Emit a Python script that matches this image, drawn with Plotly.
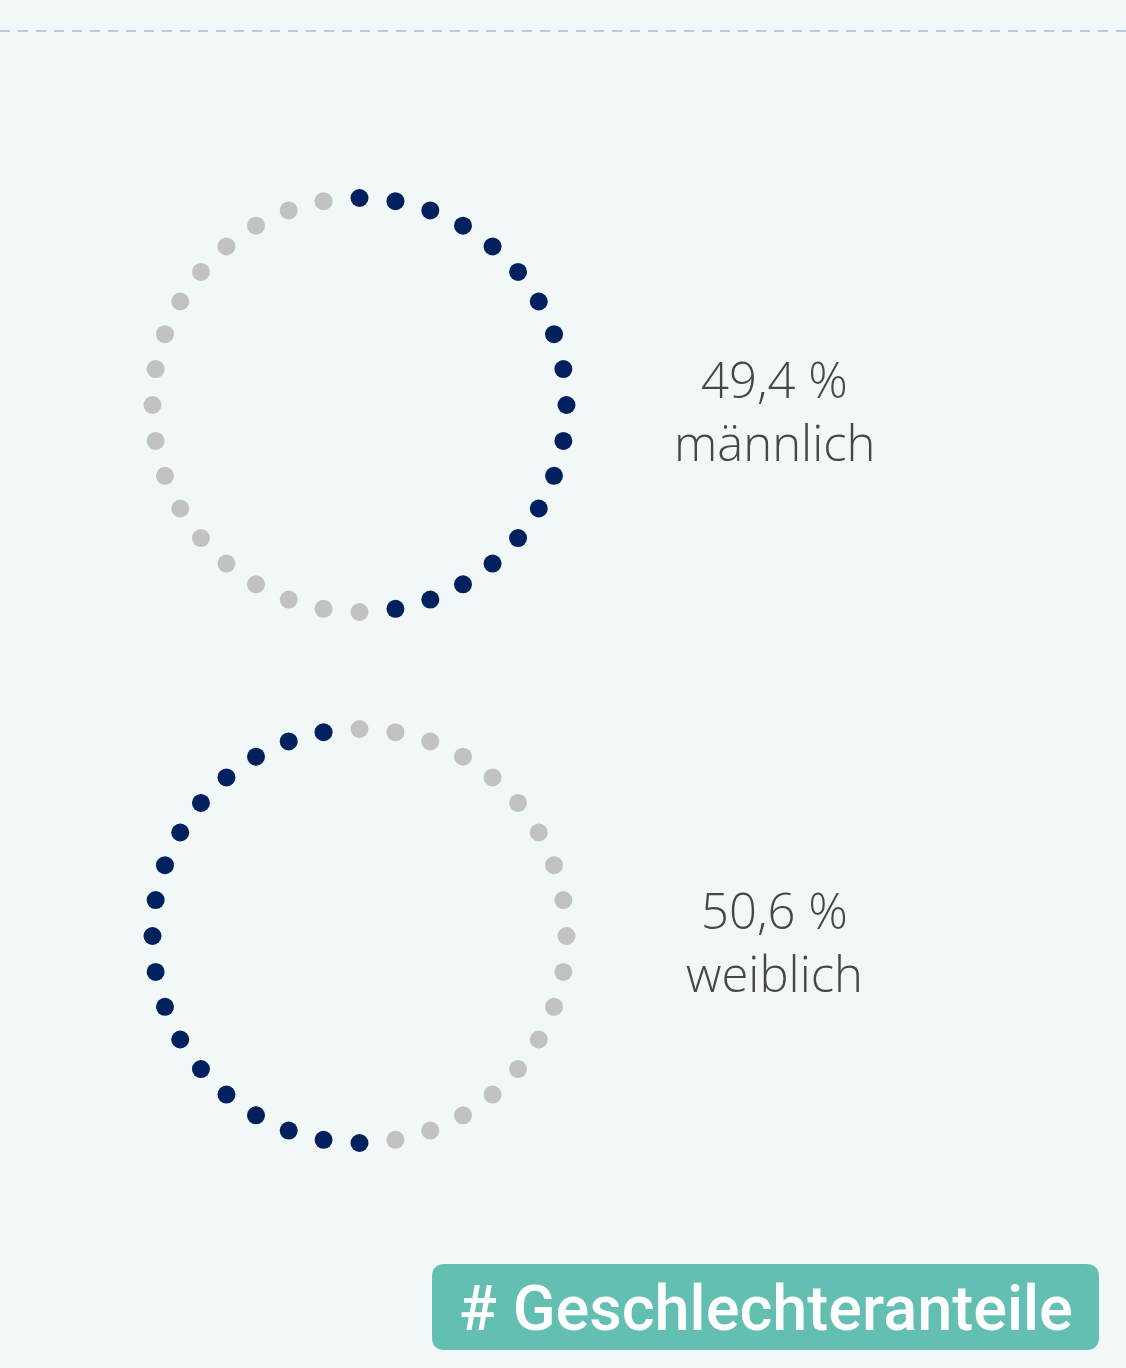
import numpy as np
import plotly.graph_objects as go

# Data
categories = ["männlich", "weiblich"]
shares = [49.4, 50.6]          # percent
share_labels = ["49,4 %", "50,6 %"]
n_dots = 36

DARK = "#00205e"
GRAY = "#c2c2c2"
BG = "#f2f8f8"
W, H = 1126, 1368

centers_y = [405, 936]
cx, R = 359.5, 207

fig = go.Figure()

# cumulative segments: male from 0 clockwise, female the rest
starts = [0.0, shares[0]]
for i, cat in enumerate(categories):
    ang = np.arange(n_dots) * 360.0 / n_dots
    lo = starts[i] / 100 * 360
    hi = (starts[i] + shares[i]) / 100 * 360
    dark = (ang >= lo - 1e-9) & (ang < hi)
    xs = cx + R * np.sin(np.radians(ang))
    ys = centers_y[i] - R * np.cos(np.radians(ang))
    cols = [DARK if d else GRAY for d in dark]
    fig.add_trace(go.Scatter(x=xs, y=ys, mode="markers",
                             marker=dict(size=18, color=cols, line=dict(width=0)),
                             hoverinfo="skip", showlegend=False))
    fig.add_annotation(x=774, y=centers_y[i] - 26, text=share_labels[i], showarrow=False,
                       font=dict(family="Open Sans", size=49, color="#474747", weight=300),
                       xanchor="center", yanchor="middle")
    fig.add_annotation(x=774, y=centers_y[i] + 37, text=cat, showarrow=False,
                       font=dict(family="Open Sans", size=49, color="#474747", weight=300),
                       xanchor="center", yanchor="middle")

# dashed top line
fig.add_shape(type="line", x0=0, x1=W, y0=31, y1=31,
              line=dict(color="#b9c9ea", width=2, dash="10px,8px"))

# badge
x0, x1, y0, y1, r = 432, 1099, 1264, 1350, 13
path = (f"M {x0+r},{y0} L {x1-r},{y0} Q {x1},{y0} {x1},{y0+r} L {x1},{y1-r} "
        f"Q {x1},{y1} {x1-r},{y1} L {x0+r},{y1} Q {x0},{y1} {x0},{y1-r} "
        f"L {x0},{y0+r} Q {x0},{y0} {x0+r},{y0} Z")
fig.add_shape(type="path", path=path, fillcolor="#63bfb2", line=dict(width=0), layer="below")
fig.add_annotation(x=(x0 + x1) / 2, y=(y0 + y1) / 2 + 1, text="# Geschlechteranteile",
                   showarrow=False,
                   font=dict(family="Roboto", size=63, color="white", weight=500),
                   xanchor="center", yanchor="middle")

fig.update_layout(width=W, height=H, margin=dict(l=0, r=0, t=0, b=0),
                  paper_bgcolor=BG, plot_bgcolor=BG,
                  xaxis=dict(range=[0, W], visible=False, fixedrange=True),
                  yaxis=dict(range=[H, 0], visible=False, fixedrange=True))

fig.write_html("out.html", config={"displayModeBar": False},
               post_script="document.body.style.margin='0';document.body.style.background='#f2f8f8';")
